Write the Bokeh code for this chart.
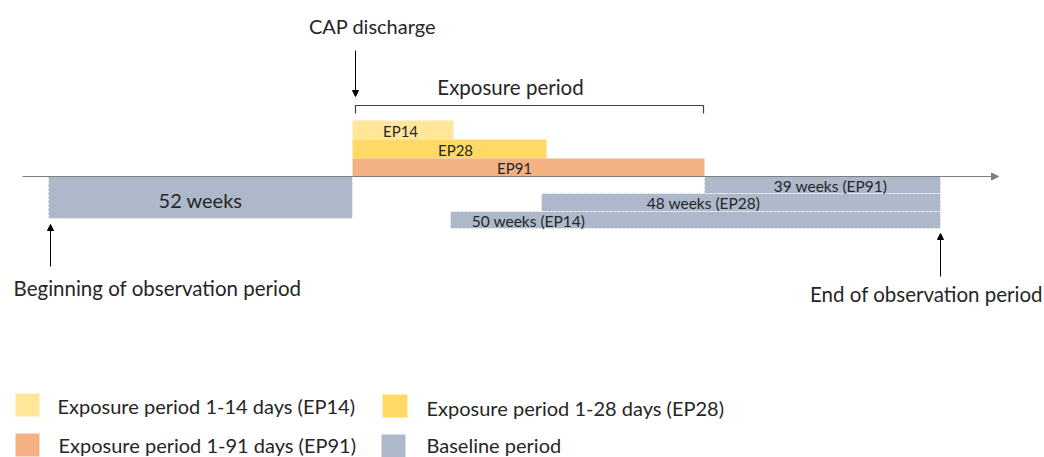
from bokeh.plotting import figure
from bokeh.models import Range1d, Arrow, NormalHead, ColumnDataSource
from bokeh.core.properties import value
from bokeh.embed import file_html
from bokeh.resources import INLINE

# ---- data (schematic timeline positions) ----
exp_labels = ["EP14", "EP28", "EP91"]
exp_start = [352, 352, 352]
exp_end = [453, 546, 704]
exp_top = [120, 139, 158]
exp_bottom = [139, 158, 176]
exp_colors = ["#FFE699", "#FFD966", "#F4B183"]

base_labels = ["52 weeks", "39 weeks (EP91)", "48 weeks (EP28)", "50 weeks (EP14)"]
base_start = [48, 704, 541, 450]
base_end = [352, 940, 940, 940]
base_top = [176, 176, 193, 211]
base_bottom = [218, 193, 211, 228]
base_label_x = [200, 830, 703, 528]

legend_labels = ["Exposure period 1-14 days (EP14)", "Exposure period 1-28 days (EP28)",
                 "Exposure period 1-91 days (EP91)", "Baseline period"]
legend_colors = ["#FFE699", "#FFD966", "#F4B183", "#ADB9CA"]

FONT = value("Lato")
TXT = "#262626"
BIG = "20.5px"

p = figure(width=1044, height=457, output_backend="svg", toolbar_location=None,
           x_range=Range1d(0, 1044), y_range=Range1d(457, 0),
           min_border=0, outline_line_color=None)
p.axis.visible = False
p.grid.visible = False

# baseline bars
p.quad(left=base_start, right=base_end, top=base_top, bottom=base_bottom,
       fill_color="#ADB9CA", line_color="white", line_dash="2 2", line_alpha=0.8, line_width=1)
p.text(x=base_label_x[:1], y=[199], text=base_labels[:1], text_font=FONT, text_font_size="20px",
       text_align="center", text_baseline="middle", text_color=TXT)
p.text(x=base_label_x[1:], y=[185, 202, 220], text=base_labels[1:], text_font=FONT,
       text_font_size="15.5px", text_align="center", text_baseline="middle", text_color=TXT)

# exposure bars
src = ColumnDataSource(dict(l=exp_start, r=exp_end, t=exp_top, b=exp_bottom, c=exp_colors))
p.quad(left="l", right="r", top="t", bottom="b", fill_color="c", line_color=None, source=src)
p.text(x=[400, 455, 514], y=[130, 149, 167], text=exp_labels, text_font=FONT,
       text_font_size="15px", text_align="center", text_baseline="middle", text_color=TXT)

# time axis
p.add_layout(Arrow(end=NormalHead(size=7, fill_color="#7F7F7F", line_color="#7F7F7F"),
                   x_start=22, y_start=176, x_end=998, y_end=176,
                   line_color="#7F7F7F", line_width=1))

# bracket
p.line(x=[355, 355, 703, 703], y=[113, 105, 105, 113], line_color="#404040", line_width=1.2)
p.text(x=[510], y=[86], text=["Exposure period"], text_font=FONT, text_font_size=BIG,
       text_align="center", text_baseline="middle", text_color=TXT)

# annotation arrows
for xs, ys, xe, ye in [(355, 50, 355, 96), (50, 266, 50, 224), (940, 276, 940, 233)]:
    p.add_layout(Arrow(end=NormalHead(size=6, fill_color="black", line_color="black"),
                       x_start=xs, y_start=ys, x_end=xe, y_end=ye,
                       line_color="black", line_width=1))
p.text(x=[372], y=[25], text=["CAP discharge"], text_font=FONT, text_font_size="20px",
       text_align="center", text_baseline="middle", text_color=TXT)
p.text(x=[157], y=[287], text=["Beginning of observation period"], text_font=FONT,
       text_font_size=BIG, text_align="center", text_baseline="middle", text_color=TXT)
p.text(x=[926], y=[293], text=["End of observation period"], text_font=FONT,
       text_font_size=BIG, text_align="center", text_baseline="middle", text_color=TXT)

# legend
p.quad(left=[15, 382, 15, 381], right=[39, 407, 39, 405], top=[393, 394, 433, 434],
       bottom=[416, 417, 456, 457], fill_color=legend_colors, line_color=None)
p.text(x=[57, 426, 58, 426], y=[405, 407, 444, 444], text=legend_labels, text_font=FONT,
       text_font_size="20px", text_align="left", text_baseline="middle", text_color=TXT)

open("out.html", "w").write(file_html(p, INLINE))
